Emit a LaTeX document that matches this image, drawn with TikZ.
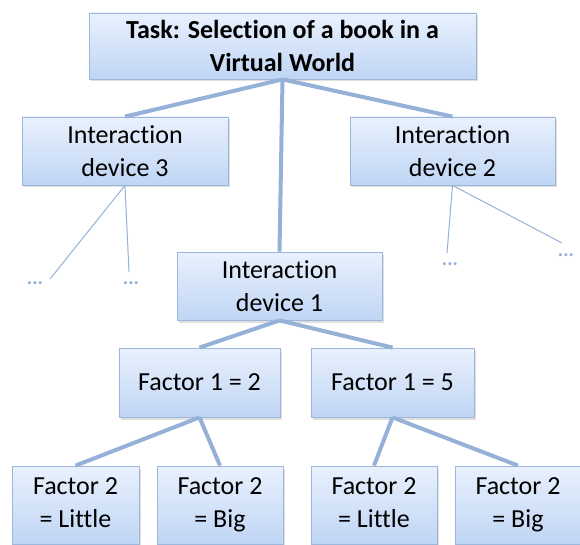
\documentclass[tikz,border=0pt]{standalone}
\usepackage{fontspec}
\setmainfont{Carlito}[RawFeature={-liga;-clig;-dlig;-hlig;-calt}]
\usetikzlibrary{shadows}
\definecolor{boxtop}{HTML}{E9F1FD}
\definecolor{boxbot}{HTML}{BFD5F4}
\definecolor{boxline}{HTML}{9DB6DC}
\definecolor{linkc}{HTML}{96B1D8}
\definecolor{dotc}{HTML}{8FAEDA}
\newcommand\Interac{Interac\kern0pt tion}
\tikzset{
  box/.style={draw=boxline, line width=0.8pt, top color=boxtop, bottom color=boxbot,
    rectangle, inner sep=0pt, align=center, font=\fontsize{26}{33}\selectfont,
    drop shadow={shadow xshift=2pt, shadow yshift=-2.5pt, opacity=0.25}},
  thick link/.style={draw=linkc, line width=4pt},
  thin link/.style={draw=linkc, line width=1pt},
  dots/.style={text=dotc, font=\fontsize{20}{20}\selectfont\bfseries, inner sep=0pt}
}
\begin{document}
\begin{tikzpicture}[x=1pt,y=-1pt]
\useasboundingbox (0,0) rectangle (580,545);
% nodes
\node[box, font=\fontsize{26}{33}\selectfont\bfseries, minimum width=387pt, minimum height=66pt] (task) at (282.5,46) {Task: Selection of a book in a\\Virtual World};
\node[box, minimum width=206pt, minimum height=68pt] (d3) at (125,151) {\Interac\\device 3};
\node[box, minimum width=205pt, minimum height=68pt] (d2) at (452.5,151) {\Interac\\device 2};
\node[box, minimum width=205pt, minimum height=68pt] (d1) at (279.5,286) {\Interac\\device 1};
\node[box, minimum width=161pt, minimum height=69pt] (f12) at (199.5,382.5) {Factor 1 = 2};
\node[box, minimum width=163pt, minimum height=69pt] (f15) at (392.5,382.5) {Factor 1 = 5};
\node[box, minimum width=127pt, minimum height=78pt] (b1) at (75.5,505) {Factor 2\\= Little\vphantom{g}};
\node[box, minimum width=126pt, minimum height=78pt] (b2) at (220,505) {Factor 2\\= Big};
\node[box, minimum width=126pt, minimum height=78pt] (b3) at (374,505) {Factor 2\\= Little\vphantom{g}};
\node[box, minimum width=126pt, minimum height=78pt] (b4) at (518,505) {Factor 2\\= Big};
% dots
\node[dots] (e1) at (35,283) {...};
\node[dots] (e2) at (131,283) {...};
\node[dots] (e3) at (450,264) {...};
\node[dots] (e4) at (566,255) {...};
\coordinate (t1) at (50,279);
\coordinate (t2) at (129,272);
\coordinate (t3) at (447,253);
\coordinate (t4) at (562,243);
% connectors
\draw[thick link] (task.south) -- (d3.north);
\draw[thick link] (task.south) -- (d2.north);
\draw[thick link] (task.south) -- (d1.north);
\draw[thick link] (d1.south) -- (f12.north);
\draw[thick link] (d1.south) -- (f15.north);
\draw[thick link] (f12.south) -- (b1.north);
\draw[thick link] (f12.south) -- (b2.north);
\draw[thick link] (f15.south) -- (b3.north);
\draw[thick link] (f15.south) -- (b4.north);
\draw[thin link] (d3.south) -- (t1);
\draw[thin link] (d3.south) -- (t2);
\draw[thin link] (d2.south) -- (t3);
\draw[thin link] (d2.south) -- (t4);
\end{tikzpicture}
\end{document}
